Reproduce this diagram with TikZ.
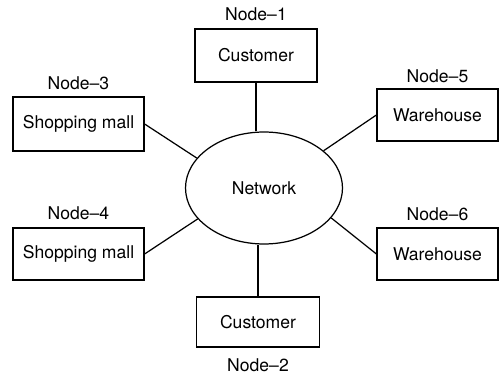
\documentclass[tikz,border=0pt]{standalone}
\usepackage{fontspec}
\setmainfont{TeX Gyre Heros}
\usetikzlibrary{shapes.geometric}

\begin{document}
\begin{tikzpicture}[x=0.02cm, y=-0.02cm, font=\fontsize{10}{12}\selectfont,
  box/.style={draw, line width=0.7pt, inner sep=0pt},
  lbl/.style={inner sep=0pt},
  link/.style={line width=0.7pt}]
  \useasboundingbox (0,0) rectangle (499,374);
  % Network
  \node[draw, ellipse, line width=0.7pt, minimum width=3.14cm, minimum height=2.24cm, inner sep=0pt] (net) at (264,188) {Network};
  % Boxes
  \foreach \name/\x/\y/\w/\h/\txt in {c1/256/55.5/2.44cm/1.06cm/Customer, c2/258/322/2.46cm/1.0cm/Customer,
      sm3/78.5/124/2.62cm/1.08cm/Shopping mall, sm4/78.5/254/2.62cm/1.04cm/Shopping mall,
      w5/437.5/115/2.42cm/1.04cm/Warehouse, w6/437.5/254/2.42cm/1.04cm/Warehouse} {
    \node[box, minimum width=\w, minimum height=\h] (\name) at (\x,\y) {\txt};
  }
  % Labels
  \foreach \name/\x/\y/\txt in {l1/256/14/Node--1, l2/258/365/Node--2, l3/78.5/83/Node--3,
      l4/78.5/213/Node--4, l5/437.5/76/Node--5, l6/437.5/214/Node--6} {
    \node[lbl] (\name) at (\x,\y) {\txt};
  }
  % Links
  \draw[link] (c1.south) -- (c1.south |- net.north);
  \draw[link] (c2.north) -- (c2.north |- net.south);
  \draw[link] (sm3.east) -- (net.156);
  \draw[link] (sm4.east) -- (net.205);
  \draw[link] (w5.west) -- (net.32);
  \draw[link] (w6.west) -- (net.336);
\end{tikzpicture}
\end{document}
